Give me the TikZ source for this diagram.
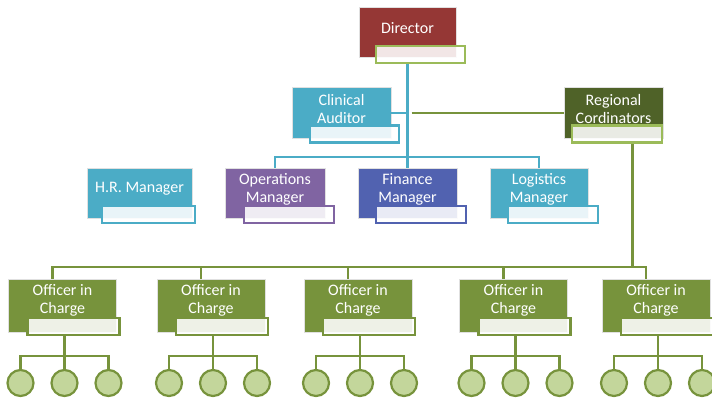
\documentclass[tikz,border=0pt]{standalone}
\usepackage{fontspec}
\setmainfont{Carlito}
\usepackage{tikz}
\usetikzlibrary{positioning}
\definecolor{dirred}{HTML}{953735}
\definecolor{aqua}{HTML}{4BACC6}
\definecolor{plum}{HTML}{8064A2}
\definecolor{indigo}{HTML}{5162B0}
\definecolor{moss}{HTML}{77933C}
\definecolor{pine}{HTML}{4F6228}
\definecolor{sprout}{HTML}{9BBB59}
\definecolor{mint}{HTML}{C3D69B}
\tikzset{
  box/.style={draw=black!12, line width=0.8pt, inner sep=0pt, minimum width=99pt, minimum height=51pt},
  tag/.style={draw=#1, line width=2.6pt, fill=white, fill opacity=0.88, inner sep=0pt,
              minimum width=89pt, minimum height=17pt, anchor=south east},
  lbl/.style={text=white, align=center, font=\fontsize{16}{18}\selectfont},
  wire/.style={draw=aqua, line width=2.2pt},
  gwire/.style={draw=moss, line width=2.6pt},
  leaf/.style={circle, draw=moss, line width=2.2pt, fill=mint, minimum size=26pt, inner sep=0pt},
}

\begin{document}
\begin{tikzpicture}[x=1pt,y=-1pt]
  \useasboundingbox (0,0) rectangle (712,398);
  % top
  \node[box, fill=dirred, minimum width=97pt, minimum height=50pt,
        label={[lbl,yshift=4pt]center:Director}] (dir) at (407.5,32) {};
  \node[tag=sprout] (dirS) at ([xshift=10pt,yshift=-7pt]dir.south east) {};
  % second row
  \node[box, fill=aqua, label={[lbl,yshift=4pt]center:{Clinical\\Auditor}}] (aud) at (341.5,113) {};
  \node[tag=aqua] (audS) at ([xshift=9pt,yshift=-5pt]aud.south east) {};
  \node[box, fill=pine, label={[lbl,yshift=4pt]center:{Regional\\Cordinators}}] (reg) at (613.5,113) {};
  \node[tag=sprout, minimum width=90pt] (regS) at ([xshift=0pt,yshift=-5pt]reg.south east) {};
  % managers
  \node[box, fill=aqua, minimum width=105pt, minimum height=50pt,
        label={[lbl,yshift=4pt]center:H.R. Manager}] (hr) at (139.5,193) {};
  \node[tag=aqua, minimum width=93pt] (hrS) at ([xshift=4pt,yshift=-6pt]hr.south east) {};
  \node[box, fill=plum, minimum width=100pt, minimum height=50pt,
        label={[lbl,yshift=4pt]center:{Operations\\Manager}}] (ops) at (275,193) {};
  \node[tag=plum, minimum width=90pt] (opsS) at ([xshift=10pt,yshift=-6pt]ops.south east) {};
  \node[box, fill=indigo, minimum height=50pt,
        label={[lbl,yshift=4pt]center:{Finance\\Manager}}] (fin) at (407.5,193) {};
  \node[tag=indigo, minimum width=90pt] (finS) at ([xshift=10pt,yshift=-6pt]fin.south east) {};
  \node[box, fill=aqua, minimum width=98pt, minimum height=50pt,
        label={[lbl,yshift=4pt]center:{Logistics\\Manager}}] (log) at (539,193) {};
  \node[tag=aqua, minimum width=90pt] (logS) at ([xshift=11pt,yshift=-6pt]log.south east) {};

  % teal links
  \coordinate (mbar) at (0,157);
  \draw[wire] (dir.south |- dirS.south) -- (fin.north);
  \draw[wire] (aud.east) -- (aud.east -| dir.south);
  \draw[wire] (ops.north) |- (log.north |- mbar) -- (log.north);
  % green links
  \coordinate[xshift=4pt] (split) at (dir.south |- reg.west);
  \draw[gwire] (split) -- (reg.west);
  \coordinate[xshift=19pt] (rdrop) at (reg.south |- regS.south);
  \coordinate (gbar) at (0,267);
  \coordinate (twig) at (0,356);
  \draw[gwire] (rdrop) -- (rdrop |- gbar);

  % officers in charge
  \foreach \n/\x in {1/62.5,2/211,3/358,4/513.5,5/656}{
    \node[box, fill=moss, minimum width=108pt, minimum height=53pt,
          label={[lbl,yshift=5pt]center:{Officer in\\Charge}}] (oic\n) at (\x,305.5) {};
    \node[tag=moss, minimum width=92pt] (oicS\n) at ([xshift=4pt,yshift=-4pt]oic\n.south east) {};
    \coordinate (drop\n) at ({\x-10},267);
    \draw[gwire] (drop\n) -- (drop\n |- oic\n.north);
    \foreach \k/\dx in {a/-42,b/2,c/46}
      \node[leaf] (leaf\n-\k) at ({\x+\dx},383) {};
    \draw[gwire] (leaf\n-b |- oicS\n.south) -- (leaf\n-b.north);
    \draw[gwire] (leaf\n-a.north) |- (leaf\n-c.north |- twig) -- (leaf\n-c.north);
  }
  \draw[gwire] (oic1.north -| drop1) -- (drop1) -- (drop5) -- (oic5.north -| drop5);
\end{tikzpicture}
\end{document}
